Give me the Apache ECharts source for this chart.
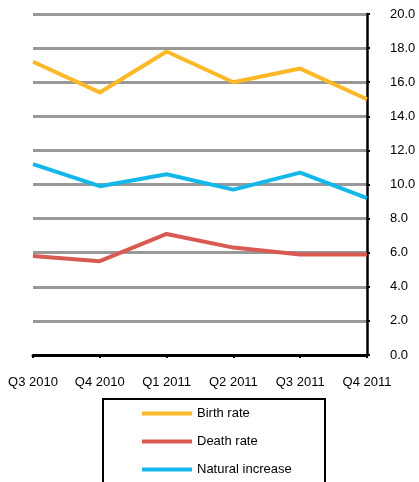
<!DOCTYPE html>
<html>
<head>
<meta charset="utf-8">
<script src="https://cdn.jsdelivr.net/npm/echarts@6/dist/echarts.min.js"></script>
<style>
  html, body { margin: 0; padding: 0; background: #fff; }
  #chart { width: 419px; height: 482px; }
</style>
</head>
<body>
<div id="chart"></div>
<script>
const categories = ['Q3 2010', 'Q4 2010', 'Q1 2011', 'Q2 2011', 'Q3 2011', 'Q4 2011']
const birthRate = [17.2, 15.4, 17.8, 16.0, 16.8, 15.0]
const deathRate = [5.8, 5.5, 7.1, 6.3, 5.9, 5.9]
const naturalIncrease = [11.2, 9.9, 10.6, 9.7, 10.7, 9.2]

const font = 'Liberation Sans, Arial, sans-serif'
const lineSeries = (name, data, color) => ({
  name: name,
  type: 'line',
  data: data,
  symbol: 'none',
  lineStyle: { color: color, width: 4 },
  itemStyle: { color: color }
})

let myChart = echarts.init(document.getElementById('chart'))
myChart.setOption({
  animation: false,
  backgroundColor: '#fff',
  grid: { left: 33, right: 52, top: 14, bottom: 127, outerBoundsMode: 'none' },
  // legend box drawn separately, it runs past the bottom edge
  graphic: [{
    type: 'rect',
    shape: { x: 103, y: 399, width: 222, height: 100 },
    style: { fill: 'none', stroke: '#000', lineWidth: 2 }
  }],
  legend: {
    orient: 'vertical',
    left: 142,
    top: 407,
    padding: 0,
    itemWidth: 50,
    itemHeight: 4,
    itemGap: 15,
    icon: 'rect',
    textStyle: { fontFamily: font, fontSize: 13, color: '#000' },
    data: ['Birth rate', 'Death rate', 'Natural increase']
  },
  xAxis: {
    type: 'category',
    data: categories,
    boundaryGap: false,
    axisLine: { lineStyle: { color: '#000', width: 3 } },
    axisTick: { show: true, length: 3, lineStyle: { color: '#000', width: 2 } },
    axisLabel: { color: '#000', fontFamily: font, fontSize: 13, margin: 21 },
    splitLine: { show: false }
  },
  yAxis: {
    type: 'value',
    position: 'right',
    min: 0,
    max: 20,
    interval: 2,
    axisLine: { show: true, lineStyle: { color: '#000', width: 2.5 } },
    axisTick: { show: true, length: 3, lineStyle: { color: '#000', width: 2 } },
    axisLabel: {
      color: '#000', fontFamily: font, fontSize: 13, margin: 23,
      formatter: v => v.toFixed(1)
    },
    splitLine: { show: true, lineStyle: { color: '#999', width: 3 } }
  },
  series: [
    lineSeries('Birth rate', birthRate, '#FDB827'),
    lineSeries('Death rate', deathRate, '#D95A52'),
    lineSeries('Natural increase', naturalIncrease, '#13B8E8')
  ]
})
</script>
</body>
</html>
